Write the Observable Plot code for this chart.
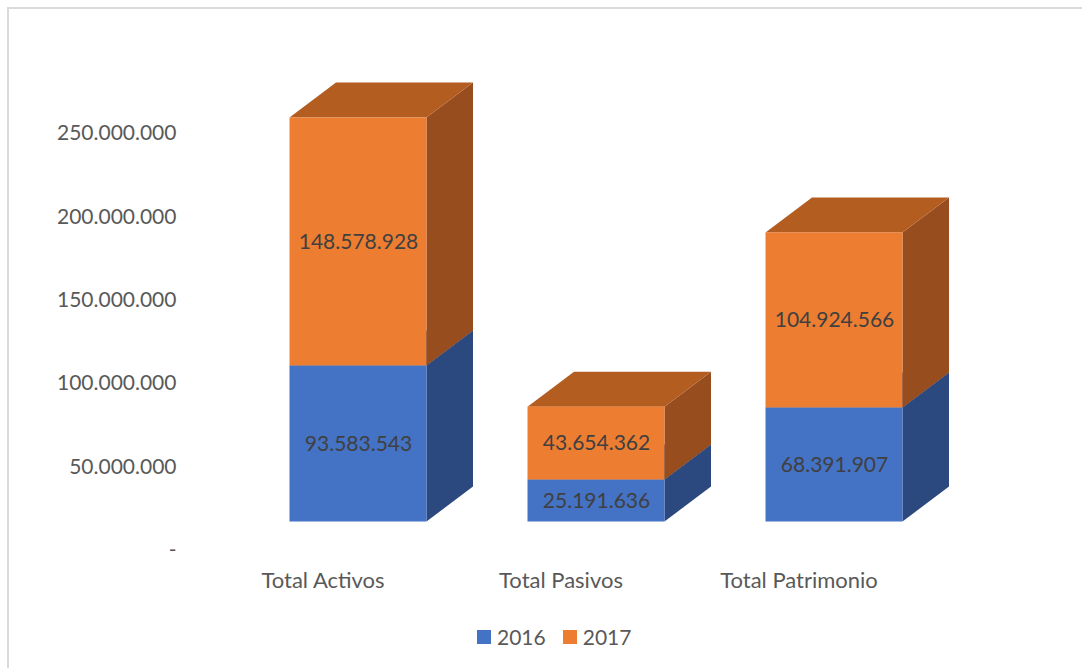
<!DOCTYPE html>
<html>
<head>
<meta charset="utf-8">
<script src="https://cdn.jsdelivr.net/npm/d3@7"></script>
<script src="https://cdn.jsdelivr.net/npm/@observablehq/plot@0.6"></script>
<style>
  html, body { margin: 0; padding: 0; background: #fff; overflow: hidden; }
  #wrap { position: relative; width: 1082px; height: 668px; font-family: Lato, "Open Sans", sans-serif; }
  #frame { position: absolute; left: 7px; top: 7px; width: 1080px; height: 670px; border-top: 2px solid #dadada; border-left: 2px solid #dadada; box-sizing: border-box; }
  #chart { position: absolute; left: 0; top: 0; }
  #legend { position: absolute; top: 624px; left: 477px; display: flex; align-items: center; font-size: 21px; color: #595959; }
  #legend .sw { width: 14px; height: 14px; display: inline-block; margin-right: 6px; }
  #legend .item { display: flex; align-items: center; margin-right: 17px; }
</style>
</head>
<body>
<div id="wrap">
  <div id="frame"></div>
  <div id="chart"></div>
  <div id="legend"></div>
</div>
<script>
// ---- data ----
const categories = ["Total Activos", "Total Pasivos", "Total Patrimonio"];
const years = ["2016", "2017"];
const values2016 = [93583543, 25191636, 68391907];
const values2017 = [148578928, 43654362, 104924566];
const yTicks = [0, 50000000, 100000000, 150000000, 200000000, 250000000];

const yearColors = {"2016": "#4472C4", "2017": "#ED7D31"};
const sideColors = {"2016": "#2B497E", "2017": "#984D1E"};
const topColors = {"2016": "#33568F", "2017": "#B35D21"};

const rows = [];
years.forEach((yr, j) => {
  const vals = j === 0 ? values2016 : values2017;
  categories.forEach((c, i) => rows.push({cat: c, year: yr, value: vals[i]}));
});

const fmt = v => v === 0 ? "-" : d3.format(",")(v).replace(/,/g, ".");

// 3D projection offsets (pixels)
const FX = 35.5, FY = -28.5;   // front face shift relative to axis plane
const DX = 46.5, DY = -35;     // depth of the boxes

const plot = Plot.plot({
  width: 1082,
  height: 612,
  marginLeft: 204,
  marginRight: 164,
  marginTop: 133,
  marginBottom: 62,
  style: {fontFamily: "Lato, 'Open Sans', sans-serif", fontSize: "21px", color: "#595959", background: "transparent", overflow: "visible"},
  x: {type: "band", domain: categories, paddingInner: 0.424, paddingOuter: 0.212, axis: null, label: null},
  y: {domain: [0, 250000000], axis: null, label: null},
  color: {domain: years, range: years.map(y => yearColors[y])},
  marks: [
    Plot.axisY({ticks: yTicks, tickFormat: fmt, tickSize: 0, tickPadding: 28, fontSize: 21, label: null}),
    Plot.axisX({tickSize: 0, tickPadding: 22, fontSize: 22, label: null}),
    Plot.barY(rows, {
      x: "cat", y: "value", fill: "year",
      render(index, scales, values) {
        const X = values.x, Y1 = values.y1, Y2 = values.y2;
        const bw = scales.x.bandwidth();
        const g = d3.create("svg:g");
        for (const i of index) {
          const yr = rows[i].year;
          const x0 = X[i] + FX, x1 = x0 + bw;
          const yb = Math.max(Y1[i], Y2[i]) + FY, yt = Math.min(Y1[i], Y2[i]) + FY;
          const pts = a => a.map(p => p.join(",")).join(" ");
          g.append("polygon")
            .attr("points", pts([[x1, yb], [x1 + DX, yb + DY], [x1 + DX, yt + DY], [x1, yt]]))
            .attr("fill", sideColors[yr]);
          g.append("polygon")
            .attr("points", pts([[x0, yt], [x0 + DX, yt + DY], [x1 + DX, yt + DY], [x1, yt]]))
            .attr("fill", topColors[yr]);
          g.append("rect")
            .attr("x", x0).attr("y", yt).attr("width", bw).attr("height", yb - yt)
            .attr("fill", yearColors[yr]);
        }
        return g.node();
      }
    }),
    Plot.text(rows, Plot.stackY({
      x: "cat", y: "value", text: d => fmt(d.value),
      dx: FX, dy: FY, fill: "#404040", fontSize: 21
    }))
  ]
});
document.getElementById("chart").appendChild(plot);

const legend = document.getElementById("legend");
years.forEach(yr => {
  const item = document.createElement("span");
  item.className = "item";
  const sw = document.createElement("span");
  sw.className = "sw";
  sw.style.background = yearColors[yr];
  item.appendChild(sw);
  item.appendChild(document.createTextNode(yr));
  legend.appendChild(item);
});
</script>
</body>
</html>
